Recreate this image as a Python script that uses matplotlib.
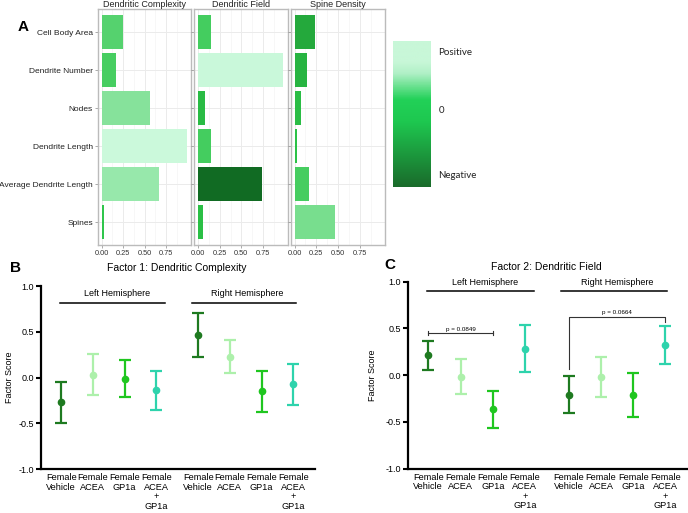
# 因子分析の結果（因子負荷量と因子得点）を描画する
import numpy as np
import matplotlib.pyplot as plt
from matplotlib.colors import LinearSegmentedColormap, Normalize

plt.rcParams['font.family'] = ['Liberation Sans', 'DejaVu Sans']

# A: 因子負荷量
facets = ['Dendritic Complexity', 'Dendritic Field', 'Spine Density']
measures = ['Cell Body Area', 'Dendrite Number', 'Nodes', 'Dendrite Length',
            'Average Dendrite Length', 'Spines']
load_complexity = [0.25, 0.17, 0.56, 0.99, 0.67, 0.03]
load_field = [0.15, 0.98, -0.08, 0.15, -0.74, -0.05]
load_spine = [-0.23, -0.14, -0.07, -0.03, 0.16, 0.47]
load_ticks = [0.0, 0.25, 0.5, 0.75]
legend_labels = ['Positive', '0', 'Negative']

# B, C: 因子得点
groups = ['Female\nVehicle', 'Female\nACEA', 'Female\nGP1a', 'Female\nACEA\n+\nGP1a']
hemispheres = ['Left Hemisphere', 'Right Hemisphere']
group_colors = ['#1e7a20', '#adf0ab', '#1fc61f', '#2ed3ac']

f1_mean = [-0.27, 0.03, -0.01, -0.14, 0.465, 0.225, -0.15, -0.07]
f1_low = [-0.49, -0.19, -0.21, -0.35, 0.225, 0.047, -0.375, -0.295]
f1_high = [-0.05, 0.26, 0.196, 0.073, 0.705, 0.41, 0.076, 0.153]

f2_mean = [0.214, -0.018, -0.364, 0.28, -0.21, -0.02, -0.214, 0.32]
f2_low = [0.06, -0.2, -0.564, 0.032, -0.407, -0.23, -0.446, 0.118]
f2_high = [0.37, 0.168, -0.168, 0.536, -0.01, 0.196, 0.02, 0.525]

cmap = LinearSegmentedColormap.from_list('grn', [(0, '#084b16'), (0.5, '#2cc548'), (1, '#ccf9dc')])
norm = Normalize(-1, 1)

fig = plt.figure(figsize=(6.88, 5.13), dpi=100)
W, H = 688, 513


def px_axes(x0, y0, x1, y1):
    return fig.add_axes([x0 / W, 1 - y1 / H, (x1 - x0) / W, (y1 - y0) / H])


# ---- A ----
facet_px = [(97.7, 191.3), (194.3, 288), (290.7, 385)]
ypos = np.arange(len(measures))
for i, (name, vals) in enumerate(zip(facets, [load_complexity, load_field, load_spine])):
    ax = px_axes(facet_px[i][0], 9.3, facet_px[i][1], 245)
    vals = np.array(vals)
    ax.barh(ypos, np.abs(vals), height=0.9, color=cmap(norm(vals)), zorder=2)
    ax.set_xlim(-0.045, 1.04)
    ax.set_ylim(len(measures) - 0.4, -0.6)
    ax.set_xticks(load_ticks)
    ax.set_xticks([0.125, 0.375, 0.625, 0.875], minor=True)
    ax.set_xticklabels(['%.2f' % t for t in load_ticks], fontsize=5.3, color='#333333')
    ax.set_yticks(ypos)
    if i == 0:
        ax.set_yticklabels(measures, fontsize=6, color='#222222')
    else:
        ax.set_yticklabels([])
        ax.tick_params(axis='y', length=0)
    ax.grid(True, which='major', color='#ebebeb', lw=0.7, zorder=0)
    ax.grid(True, which='minor', axis='x', color='#f4f4f4', lw=0.5, zorder=0)
    ax.tick_params(axis='both', which='major', length=2, width=0.5, color='#888888', pad=1.5)
    ax.tick_params(axis='x', which='minor', length=0)
    for s in ax.spines.values():
        s.set_color('#bbbbbb')
        s.set_linewidth(1.0)
    ax.set_title(name, fontsize=6.5, pad=1.5, color='#222222')

# カラーバー
cax = px_axes(393.3, 41, 431, 186.7)
bar_cmap = LinearSegmentedColormap.from_list('bar', [(0, '#1a6b2b'), (0.45, '#1ec850'),
                                                     (0.6, '#22d158'), (0.78, '#b0f0c6'),
                                                     (0.86, '#c8f7d8'), (1, '#c8f7d8')])
cax.imshow(np.linspace(1, 0, 200).reshape(-1, 1), aspect='auto', cmap=bar_cmap)
cax.axis('off')
for lab, yy in zip(legend_labels, [52.3, 111, 176]):
    fig.text(438.3 / W, 1 - yy / H, lab, fontsize=7, va='center', ha='left',
             family=['Lato', 'DejaVu Sans'], color='#222222')

fig.text(18 / W, 1 - 27 / H, 'A', fontsize=11, fontweight='bold', ha='left', va='center')


# ---- B, C ----
def score_panel(rect, mean, low, high, title, title_xy, label_xy, ylabel_x, gap):
    ax = px_axes(*rect)
    xs = np.array([0, 1, 2, 3, gap, gap + 1, gap + 2, gap + 3])
    mean = np.array(mean)
    for k in range(len(xs)):
        c = group_colors[k % 4]
        ax.errorbar(xs[k], mean[k], yerr=[[mean[k] - low[k]], [high[k] - mean[k]]],
                    fmt='o', color=c, ms=4.5, elinewidth=1.6, capsize=4, capthick=1.6, zorder=3)
    ax.set_xlim(-0.64, 8.02)
    ax.set_ylim(-1, 1)
    ax.set_yticks([-1, -0.5, 0, 0.5, 1])
    ax.set_yticklabels(['%.1f' % t for t in [-1, -0.5, 0, 0.5, 1]], fontsize=6.5)
    ax.set_xticks(xs)
    ax.set_xticklabels(groups * 2, fontsize=6.6, linespacing=1.05, va='top')
    ax.tick_params(axis='x', length=0, pad=3)
    ax.tick_params(axis='y', length=3.5, width=1.5, pad=1.5)
    for s in ['top', 'right']:
        ax.spines[s].set_visible(False)
    for s in ['left', 'bottom']:
        ax.spines[s].set_linewidth(1.6)
    ax.set_ylabel('Factor Score', fontsize=6.5)
    ax.yaxis.set_label_coords(ylabel_x, 0.5)
    # 半球ごとの区切り線
    hy, ty = (0.818, 0.913) if gap < 4.35 else (0.896, 0.99)
    for (a, b), name, cx in zip([(-0.03, 3.28), (4.13, 7.41)], hemispheres, [1.77, 5.87]):
        ax.plot([a, b], [hy, hy], color='black', lw=1.1, clip_on=False)
        ax.text(cx, ty, name, fontsize=6.5, ha='center', va='center')
    fig.text(title_xy[0] / W, 1 - title_xy[1] / H, title, fontsize=7.5, ha='center', va='center')
    fig.text(label_xy[0] / W, 1 - label_xy[1] / H, label_xy[2], fontsize=11,
             fontweight='bold', ha='left', va='center')
    return ax


score_panel((41, 286, 315, 469.3), f1_mean, f1_low, f1_high,
            'Factor 1: Dendritic Complexity', (177, 268), (10, 268, 'B'), -0.1, 4.33)
axc = score_panel((407.7, 281.7, 686.7, 468.7), f2_mean, f2_low, f2_high,
                  'Factor 2: Dendritic Field', (546.5, 267), (384, 265, 'C'), -0.11, 4.36)

# p値のブラケット
axc.plot([0, 2], [0.454, 0.454], color='#333333', lw=0.8)
for xx in [0, 2]:
    axc.plot([xx, xx], [0.43, 0.478], color='#333333', lw=0.8)
axc.text(1, 0.492, 'p = 0.0849', fontsize=4.5, ha='center', va='center')
axc.plot([4.36, 4.36, 7.36, 7.36], [0.068, 0.625, 0.625, 0.57], color='#333333', lw=0.8)
axc.text(5.86, 0.67, 'p = 0.0664', fontsize=4.5, ha='center', va='center')

fig.savefig('out.png', dpi=100)
